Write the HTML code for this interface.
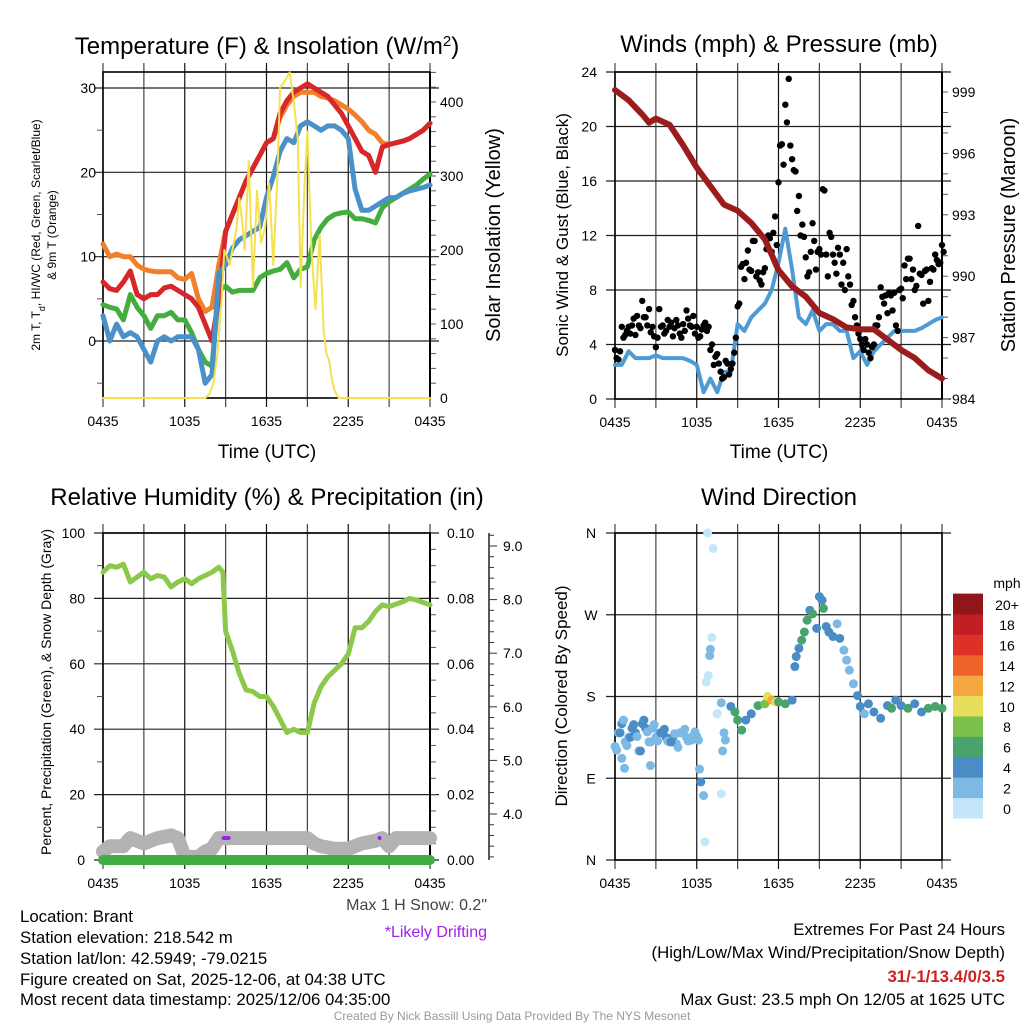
<!DOCTYPE html>
<html><head><meta charset="utf-8">
<style>
html,body{margin:0;padding:0;background:#fff;}
svg{display:block;font-family:"Liberation Sans",sans-serif;}
</style></head>
<body>
<svg id="fig" width="1024" height="1024" viewBox="0 0 1024 1024" xmlns="http://www.w3.org/2000/svg">
<g id="p1"></g>
<g id="p2"></g>
<g id="p3"></g>
<g id="p4"></g>
<g id="txt">
<text x="267" y="54" font-size="24" text-anchor="middle">Temperature (F) &amp; Insolation (W/m<tspan baseline-shift="super" font-size="15">2</tspan>)</text>
<text x="779" y="52" font-size="24" text-anchor="middle">Winds (mph) &amp; Pressure (mb)</text>
<text x="267" y="505" font-size="24" text-anchor="middle">Relative Humidity (%) &amp; Precipitation (in)</text>
<text x="779" y="505" font-size="24" text-anchor="middle">Wind Direction</text>
<text x="487" y="910" font-size="16" text-anchor="end" fill="#444">Max 1 H Snow: 0.2"</text>
<text x="487" y="937" font-size="16" text-anchor="end" fill="#a020f0">*Likely Drifting</text>
<g font-size="16.8">
<text x="20" y="922">Location: Brant</text>
<text x="20" y="943">Station elevation: 218.542 m</text>
<text x="20" y="964">Station lat/lon: 42.5949; -79.0215</text>
<text x="20" y="985">Figure created on Sat, 2025-12-06, at 04:38 UTC</text>
<text x="20" y="1005">Most recent data timestamp: 2025/12/06 04:35:00</text>
</g>
<g font-size="16.8" text-anchor="end">
<text x="1005" y="935">Extremes For Past 24 Hours</text>
<text x="1005" y="958">(High/Low/Max Wind/Precipitation/Snow Depth)</text>
<text x="1005" y="982" fill="#cc2222" font-weight="bold">31/-1/13.4/0/3.5</text>
<text x="1005" y="1005">Max Gust: 23.5 mph On 12/05 at 1625 UTC</text>
</g>
<text x="512" y="1020" font-size="12" text-anchor="middle" fill="#999">Created By Nick Bassill Using Data Provided By The NYS Mesonet</text>
</g>
</svg>
<script>
// ---------- data (time in hours from 0435) ----------
const tempTimes=[0,0.5,1,1.5,2,2.5,3,3.5,4,4.5,5,5.5,6,6.5,7,7.5,8,8.5,9,9.5,10,10.5,11,11.5,12,12.5,13,13.5,14,14.5,15,15.5,16,16.5,17,17.5,18,18.5,19,19.5,20,20.5,21,21.5,22,22.5,23,23.5,24];
const tempRed=[7,6.2,6,7,8.3,5.5,5,5.5,5.5,6.3,6.5,6,5.5,5,4,2,0,5,13,15,17,19,20.5,22,23.5,24,27,28.5,29.5,30,30.5,30,29.5,29,28,27,25.5,24,22.5,22,20,23,23.3,23.5,23.7,24,24.5,25,25.8];
const tempOrange=[11.5,10,10.3,10,10,9,8.5,8.3,8.2,8.2,8.2,7.5,7.3,8,5,3.5,4,9,13,15,17,19,20.5,22,23.5,24,26.5,28,29,29.5,29.5,29.5,29,28.8,28.5,28,27.5,26.8,26,25,24.5,23.5,23.3,23.5,23.7,24,24.5,25,25.8];
const tempGreen=[4.3,4,3.8,2.5,5.5,4,3,1.5,3,3,3.4,2.5,2.5,1,-1,-2.5,-3,6,6.5,5.8,6,6,6,7.5,8,8.3,8.5,9.3,7.5,8.5,8.8,12,13.5,14.5,15,15.2,15.3,14.5,14.5,14.3,14,15.8,16.5,17,17.5,18,18.5,19.2,19.8];
const tempBlue=[3,0,2,0.5,1,0.5,-1,-2.5,0,0.5,0,0.5,0.5,0.5,-1,-5,-4,8,9,11,12,12.5,13,13.5,17,19.5,22.5,24,23.5,25.5,26,25.5,25,25.5,25.5,25,24,18,15.5,15.5,16,16.5,17,17,17.5,17.8,18,18.2,18.5];
const solarTimes=[0,7.5,7.8,8.1,8.4,8.7,8.9,9.1,9.3,9.5,9.8,10,10.2,10.4,10.7,11,11.3,11.6,11.9,12.2,12.5,12.8,13,13.2,13.4,13.7,14,14.3,14.5,14.8,15,15.3,15.6,15.9,16.2,16.4,16.6,16.8,17,17.3,24];
const solarVals=[0,0,5,20,60,130,200,190,180,200,230,270,240,200,320,150,280,210,230,290,180,300,420,425,430,440,400,350,150,290,360,200,120,220,90,60,50,25,10,0,0];

const pressTimes=[0,1,2,2.5,3,4,5,6,7,8,9,10,11,12,13,14,15,16,17,18,19,20,21,22,23,24];
const pressVals=[999.1,998.6,997.9,997.5,997.7,997.4,996.4,995.3,994.4,993.5,993.2,992.6,991.8,990.3,989.5,989.0,988.2,987.9,987.5,987.4,987.4,986.9,986.4,986.0,985.4,985.0];
const windTimes=[0,0.5,1,1.5,2,2.5,3,3.5,4,4.5,5,5.5,6,6.5,7,7.5,8,8.5,9,9.5,10,10.5,11,11.5,12,12.5,13,13.5,14,14.5,15,15.5,16,16.5,17,17.5,18,18.5,19,19.5,20,20.5,21,21.5,22,22.5,23,23.5,24];
const windVals=[2.5,2.5,3.5,3,3,3,3.2,3,3,3,3,2.8,2.5,0.5,1.5,0.5,2,2,5.5,5,6,6.5,7,8,10,12.5,9.5,6,5.5,6.5,5,5.5,5.5,5,5,3,3.5,2.5,3.5,4,4.5,5,5,5,5,5.2,5.5,5.8,6];
const gustVals=[3.6,2.9,5.3,4.7, 5.3,5.4,4.7,5.4, 7.2,6.0,6.6,5.3, 3.8,6.6,5.4,5.0, 5.3,4.6,5.8,4.8, 5.5,6.5,5.4,6.1, 5.3,4.6,5.4,5.0, 3.6,2.5,3.3,2.0, 1.6,2.6,2.2,3.4, 6.8,9.7,8.8,10.9, 9.4,11.6,9.3,8.4, 9.6,12.0,10.8,13.4, 15.9,18.7,21.6,23.5, 17.6,16.7,14.9,12.8, 10.4,9.3,12.9,9.5, 11.0,15.4,10.6,12.2, 10.6,9.2,10.6,10.0, 11.0,8.4,7.2,5.4, 4.4,3.6,4.0,3.0, 4.0,5.4,8.2,7.0, 6.3,7.6,7.8,5.0, 8.1,9.8,10.3,8.8, 8.0,12.7,9.1,9.4, 7.2,9.6,10.6,9.9, 11.3];
const gustVals2=[3.0,3.5,4.5,5.0, 4.8,5.9,6.1,5.2, 6.0,5.4,4.9,4.6, 4.5,5.3,4.8,5.8, 5.6,5.2,5.4,4.5, 5.0,5.9,5.3,4.8, 4.5,5.1,5.6,5.3, 4.0,3.1,2.6,1.5, 2.8,1.8,2.6,4.5, 7.0,9.9,10.0,9.5, 11.6,9.0,8.7,9.3, 11.0,11.8,12.2,11.3, 18.6,17.2,20.3,18.6, 16.8,13.8,12.0,11.9, 9.0,10.8,11.6,10.8, 10.6,15.3,9.0,11.9, 10.0,11.1,8.4,8.0, 9.0,6.9,6.0,4.8, 4.0,4.4,3.4,3.8, 5.4,6.0,7.5,7.6, 7.8,6.5,5.4,8.0, 7.4,8.8,10.3,9.5, 8.3,9.2,7.0,9.5, 8.6,9.5,10.2,10.0, 10.8];

const rhTimes=[0,0.5,1,1.5,2,2.5,3,3.5,4,4.5,5,5.5,6,6.5,7,7.5,8,8.5,8.8,9,9.5,10,10.5,11,11.5,12,12.5,13,13.5,14,14.5,15,15.5,16,16.5,17,17.5,18,18.5,19,19.5,20,20.5,21,22,22.5,23,24];
const rhVals=[88,90,89.5,90.5,85,86.5,88,86,87,86.5,83.5,85,86,84.5,86,87,88,89.5,88,70,64,57,52,51.5,50,50,47,43,39,40,39,39,48,53,56,58,60,63,71,71,73,76,78,77.5,79,80,79.5,78];
const snowTimes=[0,0.5,1,1.5,2,3,4,5,5.5,6,7,7.5,8,8.5,9,10,11,12,13,14,15,15.5,16,17,18,19,20,20.5,21,21.5,22,23,24];
const snowVals=[3.3,3.4,3.4,3.4,3.55,3.45,3.55,3.6,3.55,3.2,3.2,3.3,3.35,3.55,3.55,3.55,3.55,3.55,3.55,3.55,3.55,3.45,3.4,3.35,3.35,3.45,3.5,3.55,3.4,3.55,3.55,3.55,3.55];
const precipTimes=[0,24];
const precipVals=[0,0];
const driftTimes=[9,20.3];

const dirTimes=[], dirDeg=[], dirSpd=[];
const earlyDeg=[125,140,150,130,135,145,140,120,150,145,130,145,135,140,140,135,130,135,128,140,140,135,132,137,136];
const earlySpd=[2,2,4,2,2,4,4,2,4,4,2,2,2,2,4,4,2,4,2,2,2,2,2,2,2];
const lateTimes=[0.5,0.7,2.6,6.2,6.3,6.5,6.6,6.8,7.2,7.1,7.0,6.95,6.85,6.7,7.5,7.8,8.0,8.1,7.9,7.8,8.5,8.8,9.0,9.3,9.6,10.0,10.5,11.0,11.2,11.5,11.8,12.0,12.5,13.0,13.2,13.3,13.5,13.7,13.9,14.1,14.3,14.5,14.8,15.0,15.2,15.3,15.5,15.7,16.0,16.3,16.5,16.8,17.0,17.2,17.5,17.8,18.0,18.3,18.6,19.0,19.5,20.0,20.3,20.6,21.0,21.5,22.0,22.5,23.0,23.5,24.0];
const lateDeg=[112,101,104,100,86,71,20,360,343,245,232,225,203,196,161,173,140,132,120,73,169,163,154,143,154,161,170,172,180,176,174,174,172,176,213,224,233,242,251,264,275,271,255,290,286,277,257,251,246,260,244,231,220,209,194,181,169,161,172,163,156,170,167,176,170,167,172,163,167,169,167];
const lateSpd=[2,2,2,2,4,2,0,0,0,0,2,2,0,0,0,2,2,2,2,0,4,6,6,6,4,4,6,8,10,12,10,6,6,4,4,4,4,6,6,6,4,6,4,4,4,6,4,4,4,2,4,2,2,2,2,4,4,2,4,4,4,4,6,4,4,6,4,4,6,6,6];
const cbLabels=["0","2","4","6","8","10","12","14","16","18","20+"];
const cbColors=["#c3e7f8","#7cb9e4","#4a8dc6","#48a46c","#7bc04a","#e6de5a","#f5a742","#ef6229","#dd3128","#c21f24","#91161a"];

// ---------- helpers ----------
const NS="http://www.w3.org/2000/svg";
function mk(parent,tag,attrs){const e=document.createElementNS(NS,tag);for(const k in attrs)e.setAttribute(k,attrs[k]);parent.appendChild(e);return e;}
function lin(d0,d1,r0,r1){return v=>r0+(v-d0)*(r1-r0)/(d1-d0);}
const X0=103,X1=430,X2=615,X3=942;
const timeLabels=["0435","1035","1635","2235","0435"];
function frame(g,xl,xr,yt,yb,hgrid,xs){
  for(let h=0;h<=24;h+=3){const x=xs(h);
    const l=mk(g,'line',{x1:x,y1:yt-9,x2:x,y2:yb+9,stroke:h%6==0&&h>0&&h<24?'#111':'#444','stroke-width':1.2});
    }
  hgrid.forEach(y=>{const l=mk(g,'line',{x1:xl-9,y1:y,x2:xr+9,y2:y,stroke:'#222','stroke-width':1.2});
    });
  const b=mk(g,'rect',{x:xl,y:yt,width:xr-xl,height:yb-yt,fill:'none',stroke:'#000','stroke-width':1.6});
  
  timeLabels.forEach((s,i)=>{const t=mk(g,'text',{x:xs(i*6),y:yb+28,'font-size':14,'text-anchor':'middle'});t.textContent=s;
    });
}
function poly(g,xs,ys,ts,vs,color,w,name){
  const pts=ts.map((t,i)=>xs(t).toFixed(1)+','+ys(vs[i]).toFixed(1)).join(' ');
  const p=mk(g,'polyline',{points:pts,fill:'none',stroke:color,'stroke-width':w,'stroke-linejoin':'round','stroke-linecap':'round'});
  return p;
}
function txt(g,x,y,s,attrs,name){const t=mk(g,'text',Object.assign({x:x,y:y},attrs));t.textContent=s;return t;}
function minor(g,x,ys,vals,dir){vals.forEach(v=>{const y=ys(v);const l=mk(g,'line',{x1:x,y1:y,x2:x+dir*6,y2:y,stroke:'#555','stroke-width':1});});}

// ---------- panel 1 ----------
(function(){
const g=document.getElementById('p1');
const xs=lin(0,24,X0,X1), ys=lin(0,30,341,88), ysR=lin(0,400,398,102);
const YT=72,YB=398;
frame(g,X0,X1,YT,YB,[0,10,20,30].map(ys),xs);
minor(g,X0,ys,[-5,5,15,25],-1);
const rt=[];for(let v=20;v<=440;v+=20)rt.push(v);minor(g,X1,ysR,rt,1);
const l=mk(g,'line',{x1:X1,y1:YT,x2:X1,y2:YB,stroke:'#000','stroke-width':2});
[0,10,20,30].forEach(v=>txt(g,96,ys(v)+5,String(v),{'font-size':14,'text-anchor':'end'},'y-tick-label'));
[0,100,200,300,400].forEach(v=>txt(g,440,ysR(v)+5,String(v),{'font-size':14},'y2-tick-label'));
poly(g,xs,ys,tempTimes,tempOrange,'#f47f2a',5,'line-9m-temp');
poly(g,xs,ys,tempTimes,tempGreen,'#45ad3e',5,'line-dewpoint');
poly(g,xs,ys,tempTimes,tempRed,'#d7272a',5,'line-2m-temp');
poly(g,xs,ys,tempTimes,tempBlue,'#4a90c9',5,'line-windchill');
poly(g,xs,ysR,solarTimes,solarVals,'#f5e050',2,'line-solar');
txt(g,267,458,'Time (UTC)',{'font-size':19,'text-anchor':'middle'},'x-axis-title');
txt(g,0,0,'Solar Insolation (Yellow)',{'font-size':20,'text-anchor':'middle',transform:'translate(500,235) rotate(-90)'},'y2-axis-title');
txt(g,0,0,'2m T, T',{'font-size':12,'text-anchor':'middle',transform:'translate(40,235) rotate(-90)'},'y-axis-title-1').innerHTML='2m T, T<tspan baseline-shift="sub" font-size="9">d</tspan>, HI/WC (Red, Green, Scarlet/Blue)';
txt(g,0,0,'& 9m T (Orange)',{'font-size':12,'text-anchor':'middle',transform:'translate(56,235) rotate(-90)'},'y-axis-title-2');
})();

// ---------- panel 2 ----------
(function(){
const g=document.getElementById('p2');
const xs=lin(0,24,X2,X3), ys=lin(0,24,399,72), ysR=lin(984,999,399,92);
const YT=72,YB=399;
frame(g,X2,X3,YT,YB,[0,4,8,12,16,20,24].map(ys),xs);
const rt=[];for(let v=984;v<=1000;v+=1)rt.push(v);minor(g,X3,ysR,rt,1);
const l=mk(g,'line',{x1:X3,y1:YT,x2:X3,y2:YB,stroke:'#000','stroke-width':2});
[0,4,8,12,16,20,24].forEach(v=>txt(g,597,ys(v)+5,String(v),{'font-size':14,'text-anchor':'end'},'y-tick-label'));
[984,987,990,993,996,999].forEach(v=>txt(g,952,ysR(v)+5,String(v),{'font-size':14},'y2-tick-label'));
poly(g,xs,ys,windTimes,windVals,'#4e9bd4',4,'line-sonic-wind');
gustVals.forEach((v,i)=>{const c=mk(g,'circle',{cx:xs(i*0.25),cy:ys(v),r:3.2,fill:'#000'});
  });
gustVals2.forEach((v,i)=>{const c=mk(g,'circle',{cx:xs(i*0.25+0.12),cy:ys(v),r:3.2,fill:'#000'});
  });
poly(g,xs,ysR,pressTimes,pressVals,'#9b1c1c',6,'line-pressure');
txt(g,779,458,'Time (UTC)',{'font-size':19,'text-anchor':'middle'},'x-axis-title');
txt(g,0,0,'Sonic Wind & Gust (Blue, Black)',{'font-size':17,'text-anchor':'middle',transform:'translate(568,235) rotate(-90)'},'y-axis-title');
txt(g,0,0,'Station Pressure (Maroon)',{'font-size':20,'text-anchor':'middle',transform:'translate(1015,235) rotate(-90)'},'y2-axis-title');
})();

// ---------- panel 3 ----------
(function(){
const g=document.getElementById('p3');
const xs=lin(0,24,X0,X1), ys=lin(0,100,860,533), ysS=lin(4,9,814,546);
const YT=533,YB=860;
frame(g,X0,X1,YT,YB,[0,20,40,60,80,100].map(ys),xs);
minor(g,X0,ys,[10,30,50,70,90],-1);
const rt=[];for(let v=5;v<100;v+=5)rt.push(v);minor(g,X1,ys,rt,1);
const l=mk(g,'line',{x1:X1,y1:YT,x2:X1,y2:YB,stroke:'#000','stroke-width':2});
const a3=mk(g,'line',{x1:489,y1:533,x2:489,y2:860,stroke:'#222','stroke-width':1.5});
const st=[];for(let v=3;v<=9.2;v+=0.2)st.push(+v.toFixed(1));
st.forEach(v=>{const y=ysS(v);if(y<533||y>860)return;const big=Math.abs(v-Math.round(v))<0.01;const m=mk(g,'line',{x1:489,y1:y,x2:489+(big?8:5),y2:y,stroke:'#333','stroke-width':1});});
[0,20,40,60,80,100].forEach(v=>txt(g,85,ys(v)+5,String(v),{'font-size':14,'text-anchor':'end'},'y-tick-label'));
[0,20,40,60,80,100].forEach(v=>txt(g,447,ys(v)+5,(v/1000).toFixed(2),{'font-size':14},'y2-tick-label'));
[4,5,6,7,8,9].forEach(v=>txt(g,503,ysS(v)+5,v.toFixed(1),{'font-size':14},'snow-tick-label'));
poly(g,xs,ysS,snowTimes,snowVals,'#b3b3b3',14,'line-snow-depth');
poly(g,xs,ys,precipTimes,precipVals,'#3fae44',10,'line-precip');
poly(g,xs,ys,rhTimes,rhVals,'#8cc94a',5,'line-rh');
driftTimes.forEach(t=>{const r=mk(g,'rect',{x:xs(t)-(t<10?4:2),y:836,width:t<10?9:4,height:4,fill:'#a020f0',rx:2});});
txt(g,0,0,'Percent, Precipitation (Green), & Snow Depth (Gray)',{'font-size':14,'text-anchor':'middle',transform:'translate(51,692) rotate(-90)'},'y-axis-title');
})();

// ---------- panel 4 ----------
(function(){
const g=document.getElementById('p4');
const xs=lin(0,24,X2,X3), ys=lin(0,360,860,533);
const YT=533,YB=860;
frame(g,X2,X3,YT,YB,[0,90,180,270,360].map(ys),xs);
['N','E','S','W','N'].forEach((s,i)=>txt(g,591,ys(i*90)+5,s,{'font-size':14,'text-anchor':'middle'},'y-tick-label'));
txt(g,0,0,'Direction (Colored By Speed)',{'font-size':17,'text-anchor':'middle',transform:'translate(567,696) rotate(-90)'},'y-axis-title');
earlyDeg.forEach((d,i)=>{dirTimes.push(i*0.25);dirDeg.push(d);dirSpd.push(earlySpd[i]);});
earlyDeg.forEach((d,i)=>{dirTimes.push(i*0.25+0.12);dirDeg.push(d+((i%3)-1)*4);dirSpd.push(earlySpd[(i+1)%earlySpd.length]);});
lateTimes.forEach((t,i)=>{dirTimes.push(t);dirDeg.push(lateDeg[i]);dirSpd.push(lateSpd[i]);});
dirTimes.forEach((t,i)=>{const s=dirSpd[i];const idx=Math.min(10,Math.floor(s/2));
  const c=mk(g,'circle',{cx:xs(t),cy:ys(dirDeg[i]),r:4.5,fill:cbColors[idx]});
  });
txt(g,1007,588,'mph',{'font-size':14,'text-anchor':'middle'},'colorbar-title');
const h=20.4;
cbColors.forEach((col,i)=>{const y=818-(i+1)*h;
  const r=mk(g,'rect',{x:953,y:y,width:30,height:h+0.5,fill:col});
  
  txt(g,1007,y+h/2+6,cbLabels[i],{'font-size':14,'text-anchor':'middle'},'colorbar-label');});
})();
</script>
</body></html>
